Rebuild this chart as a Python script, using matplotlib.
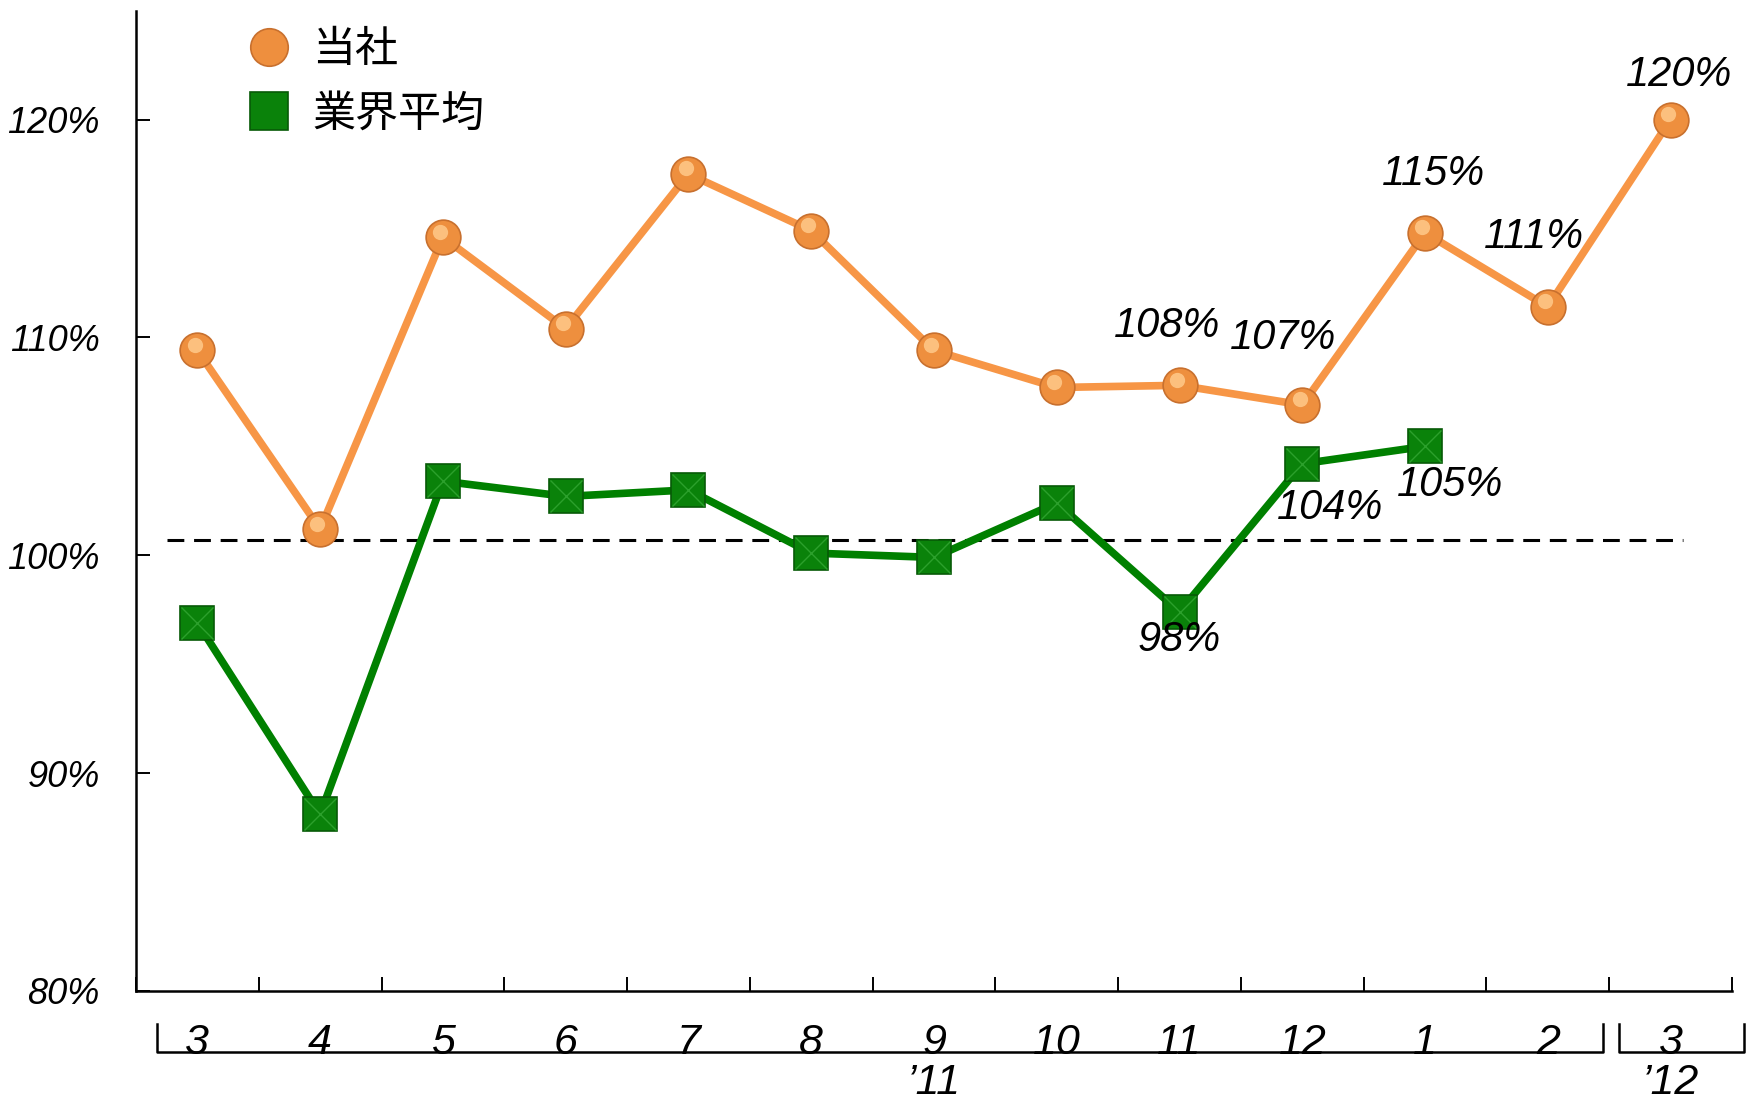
import matplotlib
matplotlib.use("Agg")
import matplotlib.pyplot as plt
import matplotlib.transforms as mtransforms
from matplotlib.lines import Line2D

# data
months = ["3", "4", "5", "6", "7", "8", "9", "10", "11", "12", "1", "2", "3"]
company = [109.4, 101.2, 114.6, 110.4, 117.5, 114.9, 109.4, 107.7, 107.8, 106.9, 114.8, 111.4, 120.0]
industry = [96.9, 88.1, 103.4, 102.7, 103.0, 100.1, 99.9, 102.4, 97.4, 104.2, 105.0]
baseline = 100.7
company_labels = {8: "108%", 9: "107%", 10: "115%", 11: "111%", 12: "120%"}
industry_labels = {8: "98%", 9: "104%", 10: "105%"}
year_labels = {6: "’11", 12: "’12"}
yticks = [80, 90, 100, 110, 120]

ORANGE = "#F79646"
GREEN = "#0A820A"
narrow = ["Liberation Sans Narrow", "Liberation Sans", "DejaVu Sans"]
cjk = ["Noto Sans CJK JP", "DejaVu Sans"]

fig = plt.figure(figsize=(17.5, 11.04), dpi=100)
ax = fig.add_axes([0.0777, 0.1024, 0.912, 0.888])

x_c = list(range(len(company)))
x_i = list(range(len(industry)))

ax.hlines(baseline, -0.25, 12.1, colors="black", linestyles=(0, (5.5, 3.2)), lw=2.2, zorder=1)

ax.plot(x_c, company, color=ORANGE, lw=5.5, zorder=2)
ax.plot(x_i, industry, color="#008000", lw=5.5, zorder=2)

# markers with a little highlight to mimic the glossy look
ax.plot(x_c, company, ls="none", marker="o", ms=25, mfc="#EE8F3E", mec="#C8702E", mew=1.2, zorder=3)
hl = mtransforms.offset_copy(ax.transData, fig=fig, x=-2, y=4, units="points")
ax.plot(x_c, company, ls="none", marker="o", ms=11, mfc="#FFC98A", mec="none", alpha=0.85,
        transform=hl, zorder=4)
ax.plot(x_i, industry, ls="none", marker="s", ms=25, mfc=GREEN, mec="#075A07", mew=1.2, zorder=3)
ax.plot(x_i, industry, ls="none", marker="x", ms=23, mec="#2CA02C", mew=1.0, zorder=4)

# data labels
c_off = {8: (-9, 43), 9: (-14, 48), 10: (6, 42), 11: (-10, 50), 12: (6, 32)}
i_off = {8: (0, -20), 9: (20, -32), 10: (18, -28)}
for i, t in company_labels.items():
    ax.annotate(t, (x_c[i], company[i]), xytext=c_off[i], textcoords="offset points",
                ha="center", va="center", fontsize=30, style="italic", family=narrow, zorder=5)
for i, t in industry_labels.items():
    ax.annotate(t, (x_i[i], industry[i]), xytext=i_off[i], textcoords="offset points",
                ha="center", va="center", fontsize=30, style="italic", family=narrow, zorder=5)

ax.set_xlim(-0.5, 12.5)
ax.set_ylim(80, 125)
ax.set_yticks(yticks)
ax.set_yticklabels([f"{v}%" for v in yticks], fontsize=26, style="italic",
                   family=["Liberation Sans", "DejaVu Sans"])
ax.set_xticks([k + 0.5 for k in range(-1, 13)])
ax.set_xticklabels([])
ax.tick_params(axis="both", direction="in", length=10, width=1.4, colors="black")
ax.tick_params(axis="y", pad=26)
for s in ["top", "right"]:
    ax.spines[s].set_visible(False)
for s in ["left", "bottom"]:
    ax.spines[s].set_linewidth(1.8)

# month labels and group brackets under the axis
tr = mtransforms.blended_transform_factory(ax.transData, ax.transAxes)
for i, m in enumerate(months):
    ax.text(i, -0.053, m, transform=tr, ha="center", va="center", fontsize=31,
            style="italic", family=narrow)
for i, t in year_labels.items():
    ax.text(i, -0.094, t, transform=tr, ha="center", va="center", fontsize=31,
            style="italic", family=narrow)
for x0, x1 in [(-0.33, 11.45), (11.58, 12.6)]:
    ax.plot([x0, x0, x1, x1], [-0.034, -0.062, -0.062, -0.034], color="black", lw=1.8,
            transform=tr, clip_on=False)

handles = [
    Line2D([], [], ls="none", marker="o", ms=27, mfc="#EE8F3E", mec="#C8702E", mew=1.2),
    Line2D([], [], ls="none", marker="s", ms=27, mfc=GREEN, mec="#075A07", mew=1.2),
]
leg = ax.legend(handles, ["当社", "業界平均"], loc="upper left", bbox_to_anchor=(0.0456, 1.022),
                frameon=False, handlelength=1.0, handletextpad=0.5, labelspacing=0.48,
                prop={"family": cjk, "size": 31, "style": "italic"})

fig.savefig("out.png", dpi=100)
